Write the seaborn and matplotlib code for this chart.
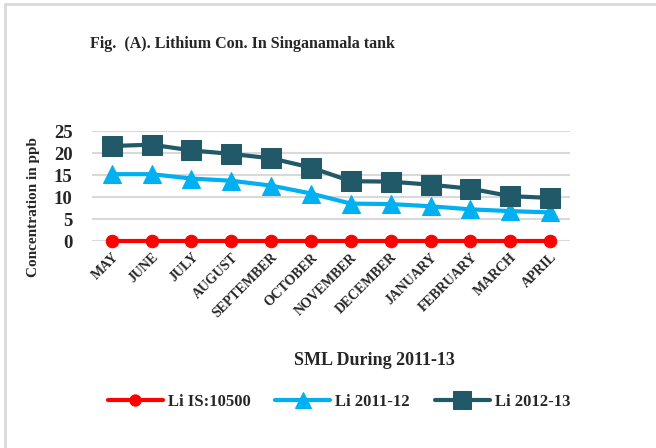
import pandas as pd
import matplotlib.pyplot as plt
import seaborn as sns

months = ["MAY", "JUNE", "JULY", "AUGUST", "SEPTEMBER", "OCTOBER",
          "NOVEMBER", "DECEMBER", "JANUARY", "FEBRUARY", "MARCH", "APRIL"]
li_is = [0, 0, 0, 0, 0, 0, 0, 0, 0, 0, 0, 0]
li_2011 = [15.2, 15.2, 14.2, 13.7, 12.6, 10.8, 8.5, 8.4, 7.9, 7.2, 6.8, 6.5]
li_2012 = [21.6, 21.9, 20.6, 19.8, 18.8, 16.7, 13.6, 13.5, 12.8, 11.9, 10.2, 9.8]

series = [
    ("Li IS:10500", li_is, "#ff0000", "o", 9),
    ("Li 2011-12", li_2011, "#00b0f0", "^", 13),
    ("Li 2012-13", li_2012, "#215968", "s", 14),
]

sns.set_theme(style="white")
plt.rcParams["font.family"] = ["Liberation Serif", "DejaVu Serif"]
plt.rcParams["font.weight"] = "bold"

fig = plt.figure(figsize=(6.56, 4.48), dpi=100)
ax = fig.add_axes([0.140, 0.462, 0.729, 0.2455])

for name, vals, color, mk, ms in series:
    df = pd.DataFrame({"Month": months, "Value": vals})
    sns.lineplot(data=df, x="Month", y="Value", ax=ax, color=color, marker=mk,
                 markersize=ms, markeredgecolor=color, linewidth=3,
                 label=name, clip_on=False, sort=False)

ax.set_xlim(-0.5, 11.5)
ax.set_ylim(0, 25)
ax.set_yticks([0, 5, 10, 15, 20, 25])
ax.yaxis.grid(True, color="#d9d9d9", linewidth=1.5)
ax.set_axisbelow(True)
for s in ax.spines.values():
    s.set_visible(False)
ax.tick_params(axis="both", length=0)
ax.tick_params(axis="y", labelsize=13.5, pad=14)
ax.tick_params(axis="x", pad=7)
plt.setp(ax.get_xticklabels(), rotation=45, ha="right", rotation_mode="anchor",
         fontsize=10, fontweight="bold")
plt.setp(ax.get_yticklabels(), fontweight="bold")
ax.set_xlabel("")
ax.set_ylabel("Concentration in ppb", fontsize=11, fontweight="bold")
ax.yaxis.set_label_coords(-0.108, 0.31)
ax.get_legend().remove()

fig.text(90 / 656, 1 - 44 / 448, "Fig.  (A). Lithium Con. In Singanamala tank",
         fontsize=11.5, fontweight="bold", va="center", ha="left")
fig.text(374 / 656, 1 - 360 / 448, "SML During 2011-13",
         fontsize=13, fontweight="bold", va="center", ha="center")

handles, labels = ax.get_legend_handles_labels()
fig.legend(handles, labels, loc="center", bbox_to_anchor=(339 / 656, 1 - 402 / 448),
           ncol=3, frameon=False, handlelength=3.3, handletextpad=0.3,
           columnspacing=1.5, markerscale=0.9, prop={"size": 12, "weight": "bold"})

fig.add_artist(plt.Line2D([5 / 656, 5 / 656], [0, 1 - 4 / 448], color="#d9d9d9", linewidth=2))
fig.add_artist(plt.Line2D([5 / 656, 1], [1 - 4 / 448, 1 - 4 / 448], color="#d9d9d9", linewidth=2))

fig.savefig("out.png", dpi=100)
